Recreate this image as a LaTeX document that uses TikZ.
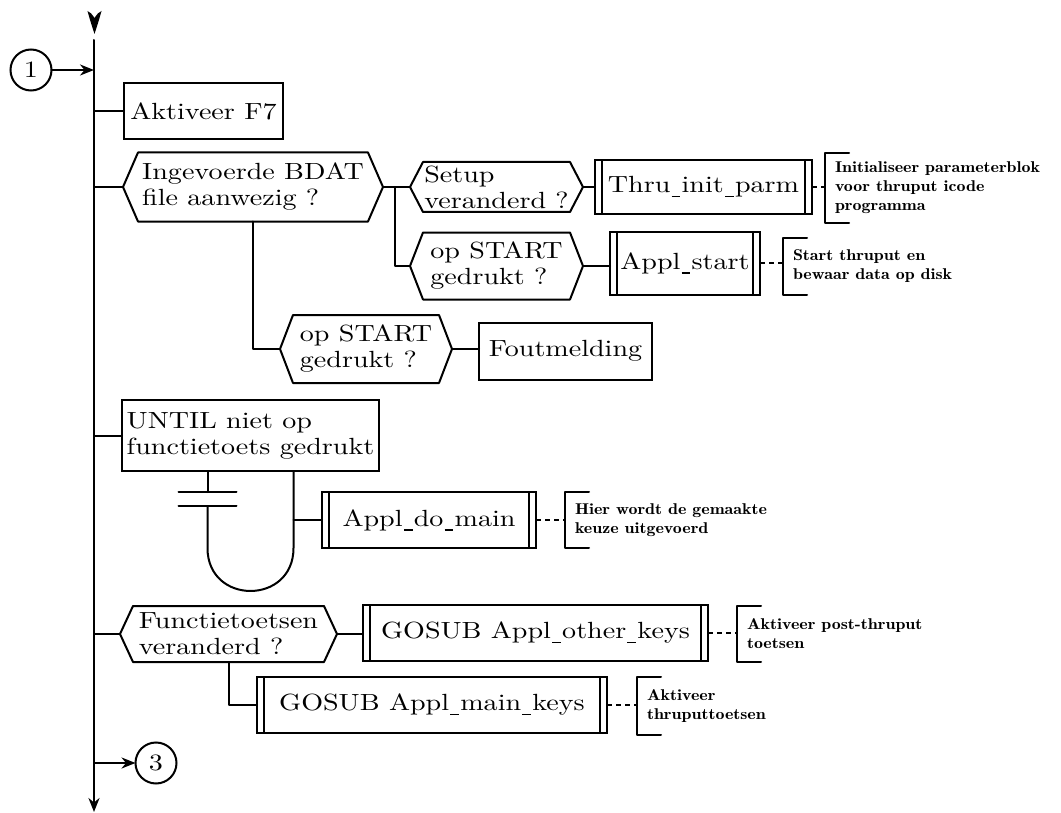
\documentclass[tikz,border=0pt]{standalone}
\usepackage{fontspec}
\setmainfont{lmroman10-regular}[Extension=.otf,FakeStretch=1.2]
\newfontfamily\notefont{lmromandemi10-regular}[Extension=.otf,FakeStretch=1.15]
\usetikzlibrary{arrows.meta,calc}

% low bar used inside procedure names
\newcommand\lowbar{\kern0.6pt\rule[-2.2pt]{4.4pt}{0.6pt}\kern0.6pt}
% hexagonal decision outline around a (borderless) node
\newcommand\drawhex[2]{%
  \draw[flow] (#1.west) -- ([xshift=#2]#1.north west) -- ([xshift=-#2]#1.north east)
    -- (#1.east) -- ([xshift=-#2]#1.south east) -- ([xshift=#2]#1.south west) -- cycle;}
% square bracket in front of a comment
\newcommand\notebracket[1]{%
  \draw[flow] ([xshift=12pt]#1.north west) -- (#1.north west) -- (#1.south west) -- ([xshift=12pt]#1.south west);}

\tikzset{
  every node/.style={font=\fontsize{11.7}{13}\selectfont, outer sep=0pt},
  flow/.style={line width=1pt, line cap=round, line join=round},
  box/.style={draw, rectangle, line width=1pt, inner sep=0pt, align=left},
  subbox/.style={box, path picture={
      \draw[line width=1pt] ([xshift=3.5pt]path picture bounding box.north west) -- ([xshift=3.5pt]path picture bounding box.south west);
      \draw[line width=1pt] ([xshift=-3.5pt]path picture bounding box.north east) -- ([xshift=-3.5pt]path picture bounding box.south east);}},
  hexnode/.style={rectangle, inner sep=0pt, align=left},
  note/.style={anchor=west, inner xsep=5pt, inner ysep=0pt, align=left, font=\notefont\fontsize{7.8}{9.5}\selectfont},
  conn/.style={circle, draw, line width=1pt, minimum size=20.5pt, inner sep=0pt},
  notelink/.style={line width=1pt, dash pattern=on 2.5pt off 2pt},
  tip/.style={-{Stealth[length=7pt,width=5.5pt]}}
}

\begin{document}
\begin{tikzpicture}[x=0.5pt,y=-0.5pt]
\useasboundingbox (0,0) rectangle (1061,813);

% main sequence line
\coordinate (mtop) at (94,40);
\coordinate (mbot) at (94,812);
\fill (87.5,11) .. controls (91,13) .. (94.5,18) .. controls (98,13) .. (101.5,11)
  .. controls (99,20) .. (94.5,34) .. controls (90,20) .. cycle;
\draw[flow, tip] (mtop) -- (mbot);

% nodes
\node[conn] (c1) at (31,70) {1};
\node[box, minimum width=79.5pt, minimum height=28pt] (akt) at (203.5,111) {Aktiveer F7};

\node[hexnode, minimum width=130pt, minimum height=34.5pt] (ing) at (253,187) {Ingevoerde BDAT\\file aanwezig ?};
\node[hexnode, minimum width=86.5pt, minimum height=25pt] (setup) at (496.5,187) {Setup\\veranderd ?};
\node[subbox, minimum width=108.5pt, minimum height=27pt] (thru) at (703.5,187) {Thru\lowbar init\lowbar parm};
\node[note, minimum height=35pt] (n1) at (825,188) {Initialiseer parameterblok\\voor thruput icode\\programma};

\node[hexnode, minimum width=86.5pt, minimum height=33.5pt] (st1) at (496.5,266) {op START\\gedrukt ?};
\node[subbox, minimum width=75pt, minimum height=31.5pt] (apst) at (685,263) {Appl\lowbar start};
\node[note, minimum height=28.5pt] (n2) at (783,266.5) {Start thruput en\\bewaar data op disk};

\node[hexnode, minimum width=86pt, minimum height=34pt] (st2) at (366,349) {op START\\gedrukt ?};
\node[box, minimum width=86.5pt, minimum height=28.5pt] (fout) at (565.5,351) {Foutmelding};

\node[box, minimum width=128.5pt, minimum height=35.5pt] (until) at (250.5,435.5) {UNTIL niet op\\functietoets gedrukt};
\node[subbox, minimum width=107pt, minimum height=28pt] (domain) at (429,520) {Appl\lowbar do\lowbar main};
\node[note, minimum height=28pt] (n3) at (565,520) {Hier wordt de gemaakte\\keuze uitgevoerd};

\node[hexnode, minimum width=108.5pt, minimum height=28pt] (fkt) at (228.5,634) {Functietoetsen\\veranderd ?};
\node[subbox, minimum width=172.5pt, minimum height=28pt] (other) at (535.5,633) {GOSUB Appl\lowbar other\lowbar keys};
\node[note, minimum height=28pt] (n4) at (737,634) {Aktiveer post-thruput\\toetsen};
\node[subbox, minimum width=175pt, minimum height=28pt] (mkeys) at (432,705) {GOSUB Appl\lowbar main\lowbar keys};
\node[note, minimum height=29pt] (n5) at (637,706) {Aktiveer\\thruputtoetsen};

\node[conn] (c3) at (156,763) {3};

% decision outlines and comment brackets
\drawhex{ing}{7.5pt}
\drawhex{setup}{6.5pt}
\drawhex{st1}{6.5pt}
\drawhex{st2}{6.5pt}
\drawhex{fkt}{6.5pt}
\notebracket{n1}
\notebracket{n2}
\notebracket{n3}
\notebracket{n4}
\notebracket{n5}

% connectors from the main line
\draw[flow, tip] (c1.east) -- (c1.east -| mtop);
\draw[flow] (akt.west -| mtop) -- (akt.west);
\draw[flow] (ing.west -| mtop) -- (ing.west);
\draw[flow] (until.west -| mtop) -- (until.west);
\draw[flow] (fkt.west -| mtop) -- (fkt.west);
\draw[flow, tip] (c3.west -| mtop) -- (c3.west);

% BDAT branch
\coordinate (br) at (395,187);
\draw[flow] (ing.east) -- (setup.west);
\draw[flow] (br) |- (st1.west);
\draw[flow] (setup.east) -- (setup.east -| thru.west);
\draw[flow] (st1.east) -- (st1.east -| apst.west);
\draw[flow] (ing.south) |- (st2.west);
\draw[flow] (st2.east) -- (st2.east -| fout.west);

% repeat loop
\coordinate (lpL) at ($(until.south)+(-43,0)$);
\coordinate (lpR) at ($(until.south)+(43,0)$);
\draw[flow] (lpL) -- ++(0,21);
\draw[flow] ($(lpL)+(-29,21)$) -- ++(58,0);
\draw[flow] ($(lpL)+(-29,35)$) -- ++(58,0);
\draw[flow] ($(lpL)+(0,35)$) -- ($(lpL)+(0,77)$)
  .. controls ($(lpL)+(0,134.3)$) and ($(lpR)+(0,134.3)$) .. ($(lpR)+(0,77)$) -- (lpR);
\draw[flow] (domain.west -| lpR) -- (domain.west);

% function keys branch
\draw[flow] (fkt.east) -- (fkt.east -| other.west);
\draw[flow] (fkt.south) |- (mkeys.west);

% links to comments
\draw[notelink] (thru.east) -- (thru.east -| n1.west);
\draw[notelink] (apst.east) -- (apst.east -| n2.west);
\draw[notelink] (domain.east) -- (domain.east -| n3.west);
\draw[notelink] (other.east) -- (other.east -| n4.west);
\draw[notelink] (mkeys.east) -- (mkeys.east -| n5.west);
\end{tikzpicture}
\end{document}
